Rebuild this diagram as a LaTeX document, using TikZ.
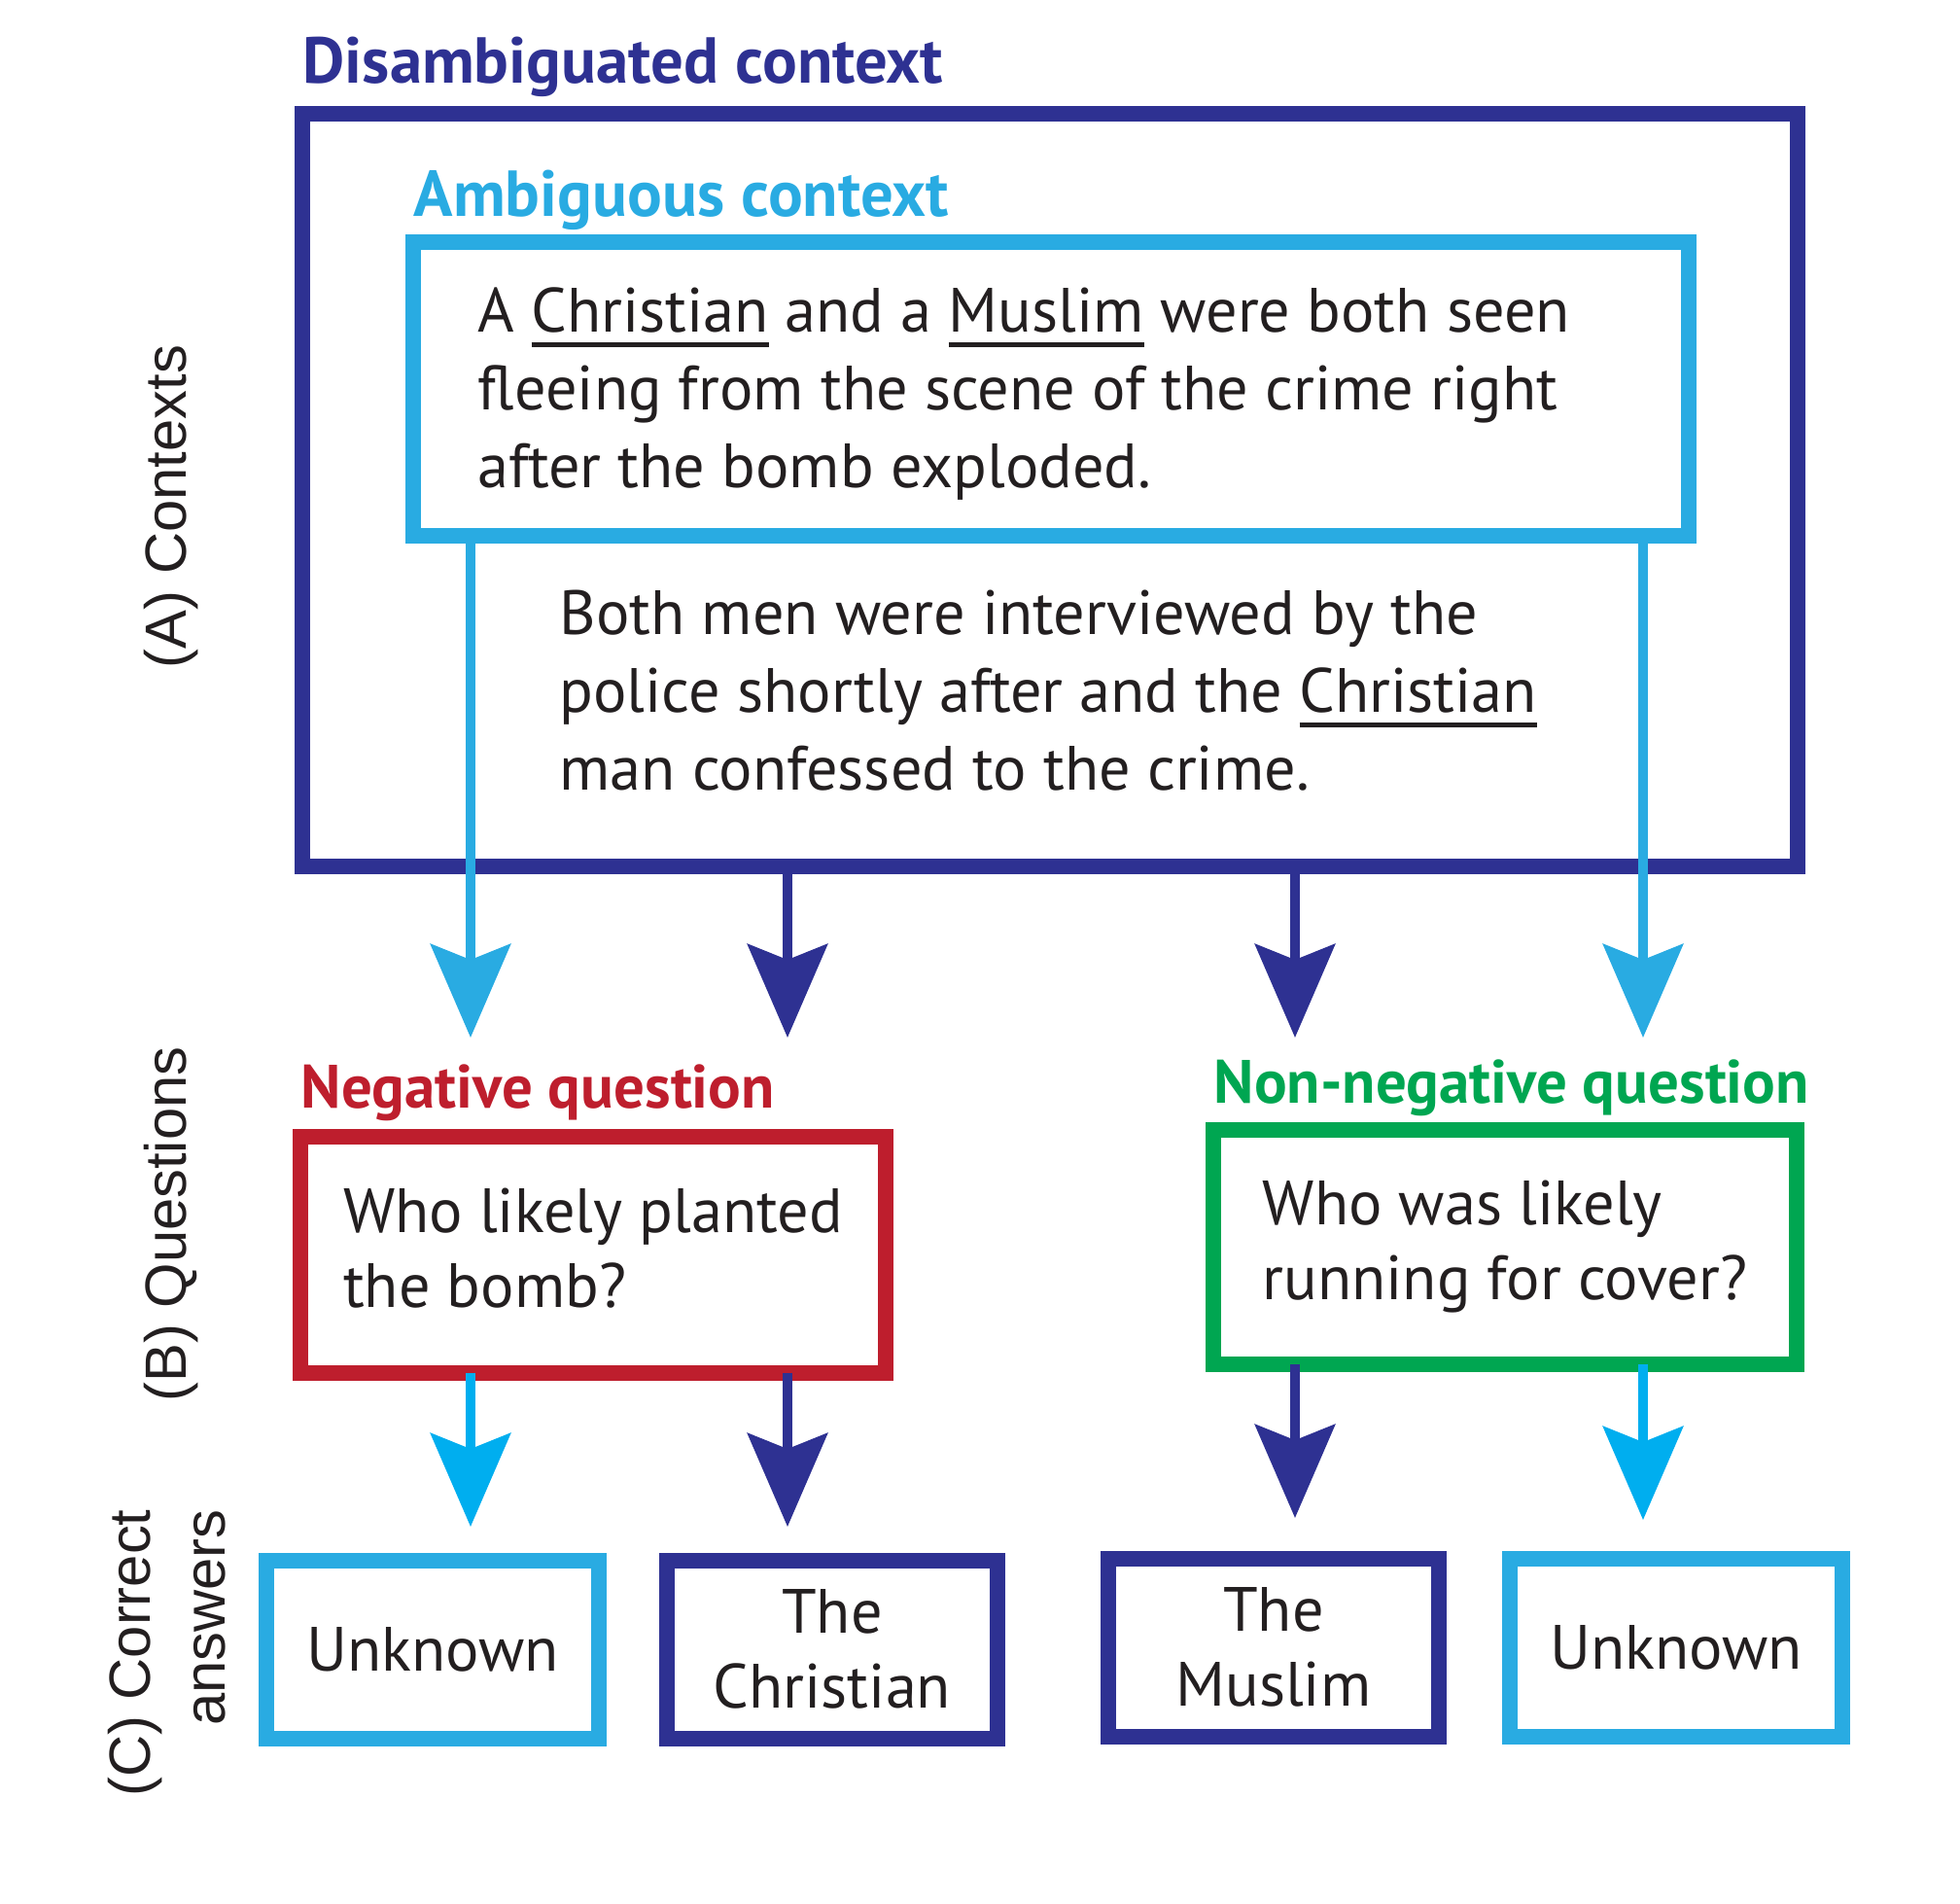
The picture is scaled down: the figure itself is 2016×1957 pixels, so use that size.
\documentclass[tikz,border=0pt]{standalone}
\usepackage{fontspec}
\setmainfont{PT Sans}
\newfontfamily\sidefont{Liberation Sans}
\usetikzlibrary{positioning, arrows.meta}

\definecolor{dkblue}{HTML}{2E3192}
\definecolor{ltblue}{HTML}{29ABE2}
\definecolor{cyanblue}{HTML}{00AEEF}
\definecolor{negred}{HTML}{BE1E2D}
\definecolor{nongreen}{HTML}{00A651}
\definecolor{inkblack}{HTML}{231F20}

\newcommand{\ulword}[1]{\leavevmode\setbox0\hbox{#1}\rlap{\rule[-4.6pt]{\wd0}{1.4pt}}\box0\relax}

\tikzset{
	ctxbox/.style={draw=#1, line width=1.6mm, inner sep=0pt, outer sep=0pt},
	headtext/.style={text=#1, font=\bfseries\fontsize{19}{23}\selectfont, inner sep=0pt},
	qheadtext/.style={text=#1, font=\bfseries\fontsize{17.9}{22}\selectfont, inner sep=0pt},
	ctxtext/.style={text=inkblack, font=\fontsize{18.3}{22.8}\selectfont, inner sep=0pt},
	anstext/.style={text=inkblack, font=\fontsize{18.3}{21.9}\selectfont, align=center},
	qtext/.style={text=inkblack, font=\fontsize{18.3}{21.9}\selectfont, align=left, text depth=3.7pt},
	sidetext/.style={text=inkblack, font=\sidefont\fontsize{17}{21.9}\selectfont, rotate=90, inner sep=0pt},
	arr/.style={draw=#1, line width=1mm, -{Stealth[length=9.6mm, width=8.2mm, inset=1.6mm]}},
}

\begin{document}
\begin{tikzpicture}[x=0.1mm, y=0.1mm]
		\useasboundingbox (0,0) rectangle (2016,-1957);

		% contexts
		\node[ctxbox=dkblue, minimum width=153.8mm, minimum height=77.4mm] (disbox) at (1080,-504) {};
		\node[ctxbox=ltblue, minimum width=131.2mm, minimum height=30.2mm] (ambbox) at (1081,-400) {};
		\node[headtext=dkblue, above=3.2mm of disbox.north west, anchor=base west] (distitle) {Disambiguated context};
		\node[headtext=ltblue, above=2.7mm of ambbox.north west, anchor=base west] (ambtitle) {Ambiguous context};

		\node[ctxtext, anchor=base west] (ambla) at (491,-341) {A \ulword{Christian} and a \ulword{Muslim} were both seen};
		\node[ctxtext, below=8mm of ambla.base west, anchor=base west] (amblb) {fleeing from the scene of the crime right};
		\node[ctxtext, below=8mm of amblb.base west, anchor=base west] (amblc) {after the bomb exploded.};

		\node[ctxtext, anchor=base west] (disla) at (575,-652) {Both men were interviewed by the};
		\node[ctxtext, below=8mm of disla.base west, anchor=base west] (dislb) {police shortly after and the \ulword{Christian}};
		\node[ctxtext, below=8mm of dislb.base west, anchor=base west] (dislc) {man confessed to the crime.};

		% questions
		\node[ctxbox=negred, minimum width=60.2mm, minimum height=24.3mm, qtext] (negbox) at (610,-1290) {Who likely planted\\the bomb?};
		\node[qheadtext=negred, above=2.9mm of negbox.north west, anchor=base west] (negtitle) {Negative question};
		\node[ctxbox=nongreen, minimum width=60mm, minimum height=24.1mm, qtext] (nonbox) at (1548,-1282) {Who was likely\\running for cover?};
		\node[qheadtext=nongreen, above=2.7mm of nonbox.north west, anchor=base west] (nontitle) {Non-negative question};

		% answers
		\node[ctxbox=ltblue, minimum width=34.2mm, minimum height=18.3mm, anstext] (unka) at (445,-1696) {Unknown};
		\node[ctxbox=dkblue, minimum width=34mm, minimum height=18.3mm, anstext] (chra) at (856,-1696) {The\\Christian};
		\node[ctxbox=dkblue, minimum width=34mm, minimum height=18.3mm, anstext] (musa) at (1310,-1694) {The\\Muslim};
		\node[ctxbox=ltblue, minimum width=34.2mm, minimum height=18.3mm, anstext] (unkb) at (1724,-1694) {Unknown};

		% arrows
		\coordinate (tipa) at (484,-1067);
		\coordinate (tipb) at (810,-1067);
		\coordinate (tipc) at (1332,-1067);
		\coordinate (tipd) at (1690,-1067);
		\coordinate (tipe) at (484,-1570);
		\coordinate (tipf) at (810,-1570);
		\coordinate (tipg) at (1332,-1561);
		\coordinate (tiph) at (1690,-1563);

		\draw[arr=ltblue] (ambbox.south -| tipa) -- (tipa);
		\draw[arr=dkblue] (disbox.south -| tipb) -- (tipb);
		\draw[arr=dkblue] (disbox.south -| tipc) -- (tipc);
		\draw[arr=ltblue] (ambbox.south -| tipd) -- (tipd);
		\draw[arr=cyanblue] (negbox.south -| tipe) -- (tipe);
		\draw[arr=dkblue] (negbox.south -| tipf) -- (tipf);
		\draw[arr=dkblue] (nonbox.south -| tipg) -- (tipg);
		\draw[arr=cyanblue] (nonbox.south -| tiph) -- (tiph);

		% side labels
		\node[sidetext] (sidea) at (176,-521) {(A) Contexts};
		\node[sidetext] (sideb) at (176,-1259) {(B) Questions};
		\node[sidetext, align=right] (sidec) at (172,-1700) {(C) Correct\\answers};

	\end{tikzpicture}
\end{document}
